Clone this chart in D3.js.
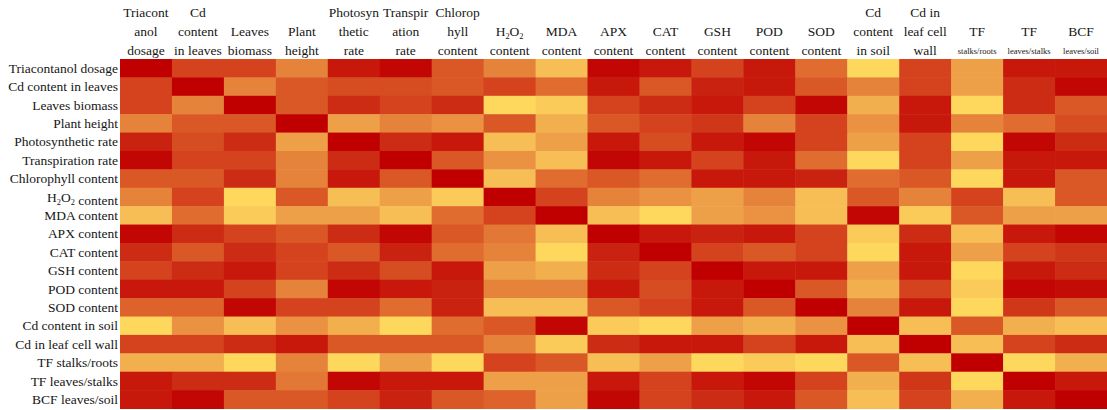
<!DOCTYPE html>
<html>
<head>
<meta charset="utf-8">
<script src="https://cdnjs.cloudflare.com/ajax/libs/d3/7.8.5/d3.min.js"></script>
<style>
  body { margin: 0; background: #fff; }
  text { font-family: "Liberation Serif", "Times New Roman", serif; fill: #161616; }
</style>
</head>
<body>
<div id="heatmap"></div>
<script>
// variable names (rows and columns share the same order)
const variables = ["Triacontanol dosage", "Cd content in leaves", "Leaves biomass", "Plant height",
  "Photosynthetic rate", "Transpiration rate", "Chlorophyll content", "H2O2 content", "MDA content",
  "APX content", "CAT content", "GSH content", "POD content", "SOD content", "Cd content in soil",
  "Cd in leaf cell wall", "TF stalks/roots", "TF leaves/stalks", "BCF leaves/soil"];

// column headers, wrapped as in the original; the last line of the TF/BCF ones is small
const headerLines = [
  ["Triacont", "anol", "dosage"], ["Cd", "content", "in leaves"], ["Leaves", "biomass"], ["Plant", "height"],
  ["Photosyn", "thetic", "rate"], ["Transpir", "ation", "rate"], ["Chlorop", "hyll", "content"],
  ["H2O2", "content"], ["MDA", "content"], ["APX", "content"], ["CAT", "content"], ["GSH", "content"],
  ["POD", "content"], ["SOD", "content"], ["Cd", "content", "in soil"], ["Cd in", "leaf cell", "wall"],
  ["TF", "stalks/roots"], ["TF", "leaves/stalks"], ["BCF", "leaves/soil"]];
const smallSubtitle = ["stalks/roots", "leaves/stalks", "leaves/soil"];

// correlation coefficients
const corr = [
  [1, 0.4, 0.4, -0.2, 0.8, 0.95, 0.2, -0.2, -0.6, 0.95, 0.8, 0.4, 0.8, 0, -0.8, 0.4, -0.4, 0.8, 0.8],
  [0.4, 1, -0.2, 0.2, 0.3, 0.3, 0.2, 0.4, 0, 0.8, 0.2, 0.7, 0.8, 0.2, -0.2, 0.4, -0.4, 0.6, 0.95],
  [0.4, -0.2, 1, 0.2, 0.6, 0.4, 0.6, -0.8, -0.7, 0.4, 0.6, 0.8, 0.4, 0.95, -0.5, 0.8, -0.8, 0.6, 0.2],
  [-0.2, 0.2, 0.2, 1, -0.4, -0.2, -0.3, 0.2, -0.5, 0.2, 0.4, 0.5, -0.2, 0.4, -0.3, 0.8, -0.2, 0, 0.3],
  [0.7, 0.3, 0.6, -0.4, 1, 0.6, 0.8, -0.6, -0.4, 0.8, 0.3, 0.8, 0.95, 0.4, -0.4, 0.4, -0.8, 0.95, 0.6],
  [0.95, 0.4, 0.4, -0.2, 0.6, 1, 0.2, -0.3, -0.6, 0.95, 0.8, 0.4, 0.8, 0, -0.8, 0.4, -0.4, 0.8, 0.8],
  [0.2, 0.2, 0.6, -0.2, 0.8, 0.2, 1, -0.6, 0, 0.2, 0, 0.8, 0.8, 0.7, 0, 0.2, -0.8, 0.8, 0.2],
  [-0.2, 0.4, -0.8, 0.2, -0.6, -0.4, -0.7, 1, 0.4, -0.2, -0.3, -0.4, -0.2, -0.6, 0.2, -0.2, 0.4, -0.6, 0.2],
  [-0.6, 0, -0.7, -0.4, -0.4, -0.6, 0, 0.4, 1, -0.6, -0.8, -0.4, -0.3, -0.6, 0.95, -0.7, 0.2, -0.4, -0.4],
  [0.95, 0.6, 0.4, 0.2, 0.6, 0.95, 0.2, -0.1, -0.6, 1, 0.8, 0.7, 0.8, 0.4, -0.7, 0.6, -0.6, 0.8, 0.95],
  [0.6, 0.2, 0.6, 0.4, 0.2, 0.7, 0, -0.2, -0.8, 0.7, 1, 0.4, 0.2, 0.4, -0.8, 0.8, -0.4, 0.4, 0.5],
  [0.4, 0.6, 0.8, 0.4, 0.6, 0.3, 0.8, -0.4, -0.5, 0.6, 0.4, 1, 0.8, 0.8, -0.4, 0.8, -0.8, 0.8, 0.6],
  [0.8, 0.8, 0.4, -0.2, 0.95, 0.8, 0.7, -0.2, -0.2, 0.8, 0.3, 0.8, 1, 0.2, -0.5, 0.4, -0.7, 0.95, 0.9],
  [0.1, 0.1, 0.95, 0.4, 0.4, 0, 0.7, -0.6, -0.6, 0.2, 0.4, 0.8, 0.2, 1, -0.2, 0.8, -0.8, 0.5, 0.2],
  [-0.8, -0.3, -0.6, -0.3, -0.5, -0.8, 0, 0.2, 0.95, -0.7, -0.8, -0.4, -0.5, -0.3, 1, -0.6, 0.2, -0.5, -0.6],
  [0.4, 0.4, 0.6, 0.8, 0.2, 0.2, 0.2, -0.2, -0.7, 0.6, 0.8, 0.8, 0.4, 0.8, -0.6, 1, -0.6, 0.4, 0.6],
  [-0.5, -0.5, -0.8, -0.2, -0.8, -0.4, -0.8, 0.4, 0.2, -0.6, -0.4, -0.8, -0.7, -0.8, 0.2, -0.6, 1, -0.8, -0.5],
  [0.8, 0.6, 0.6, -0.1, 0.95, 0.8, 0.8, -0.4, -0.4, 0.8, 0.4, 0.8, 0.95, 0.4, -0.5, 0.5, -0.8, 1, 0.8],
  [0.8, 0.95, 0.2, 0.2, 0.4, 0.7, 0.2, 0.1, -0.4, 0.95, 0.4, 0.6, 0.8, 0.2, -0.6, 0.4, -0.5, 0.8, 1]
];

// colour stops, yellow (low) to dark red (high)
const colorStops = [-0.8, -0.6, -0.4, -0.2, 0, 0.2, 0.4, 0.6, 0.8, 1];
const colorRange = ["#fdd85d", "#f6be54", "#eea048", "#e5833b", "#e06c30", "#da5826", "#d4421e", "#cc2c14", "#c8180c", "#c00000"];

const WIDTH = 1107, HEIGHT = 410;
const grid = { left: 120, right: 1107, top: 59, bottom: 408.5 };

const svg = d3.select("#heatmap").append("svg")
  .attr("width", WIDTH)
  .attr("height", HEIGHT);

const x = d3.scaleBand().domain(d3.range(variables.length)).range([grid.left, grid.right]);
const y = d3.scaleBand().domain(d3.range(variables.length)).range([grid.top, grid.bottom]);
const color = d3.scaleLinear().domain(colorStops).range(colorRange).clamp(true);

const cells = corr.flatMap((row, i) => row.map((v, j) => ({ i, j, v })));

svg.append("g")
  .selectAll("rect")
  .data(cells)
  .join("rect")
  .attr("x", d => x(d.j))
  .attr("y", d => y(d.i))
  .attr("width", x.bandwidth() + 0.5)
  .attr("height", y.bandwidth() + 0.5)
  .attr("fill", d => color(d.v));

// writes a label, turning the 2s of H2O2 into subscripts
function writeLabel(sel, str, size) {
  const parts = str.split(/(H2O2)/);
  parts.forEach(p => {
    if (p === "H2O2") {
      sel.append("tspan").text("H");
      sel.append("tspan").text("2").attr("font-size", size * 0.62).attr("dy", 3);
      sel.append("tspan").text("O").attr("dy", -3);
      sel.append("tspan").text("2").attr("font-size", size * 0.62).attr("dy", 3);
      sel.append("tspan").text("").attr("dy", -3);
    } else if (p.length) {
      sel.append("tspan").text(p);
    }
  });
}

// row labels
const fontSize = 13.5;
svg.append("g")
  .selectAll("text")
  .data(variables)
  .join("text")
  .attr("x", grid.left - 2)
  .attr("y", (d, i) => y(i) + y.bandwidth() / 2 + 4.6)
  .attr("text-anchor", "end")
  .attr("font-size", fontSize)
  .each(function (d) { writeLabel(d3.select(this), d, fontSize); });

// column headers, bottom aligned on three lines
const lineY = [17, 36, 54.5];
const header = svg.append("g");
headerLines.forEach((lines, j) => {
  const offset = 3 - lines.length;
  lines.forEach((line, k) => {
    const small = smallSubtitle.includes(line) && k === lines.length - 1;
    const t = header.append("text")
      .attr("x", x(j) + x.bandwidth() / 2)
      .attr("y", lineY[k + offset] - (small ? 1 : 0))
      .attr("text-anchor", "middle")
      .attr("font-size", small ? 8.5 : fontSize);
    writeLabel(t, line, fontSize);
  });
});
</script>
</body>
</html>
